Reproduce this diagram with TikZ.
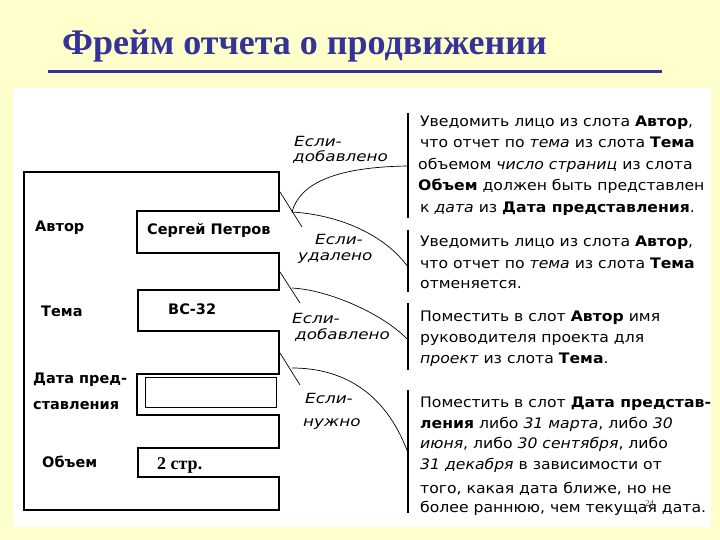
\documentclass[tikz,border=0pt]{standalone}
\usepackage{fontspec}
\setmainfont{DejaVu Sans}
\newfontfamily\titlefont{Liberation Serif}
\newfontfamily\condfont[FakeStretch=1.2]{DejaVu Sans}
\newfontfamily\bodyfont[FakeStretch=1.08]{DejaVu Sans}
\definecolor{bgyellow}{RGB}{255,255,204}
\definecolor{titleblue}{RGB}{51,51,153}
\newcommand\B[1]{\textbf{#1}}
\newcommand\I[1]{\textit{#1}}
\tikzset{
  txt/.style={anchor=base west, inner sep=0pt, font=\bodyfont\fontsize{14.5}{17}\selectfont},
  slotlab/.style={anchor=base west, inner sep=0pt, font=\bfseries\fontsize{14.5}{17}\selectfont},
  cond/.style={anchor=base west, inner sep=0pt, font=\condfont\itshape\fontsize{14}{17}\selectfont},
  frameline/.style={line width=2pt, line join=miter},
  bar/.style={line width=1.2pt},
  link/.style={line width=0.7pt}
}
\begin{document}
\begin{tikzpicture}[x=1pt,y=-1pt]
\useasboundingbox (0,0) rectangle (720,540);
\fill[bgyellow] (0,0) rectangle (720,540);
\fill[white] (13,88) rectangle (711,527);
% title
\node[anchor=base west, inner sep=0pt, text=titleblue,
      font=\titlefont\bfseries\fontsize{36}{40}\selectfont] (title) at (62,55) {Фрейм отчета о продвижении};
\coordinate (ulA) at (48,71.5);
\coordinate (ulB) at (662,71.5);
\draw[titleblue, line width=2.5pt] (ulA) -- (ulB);
% frame
\draw[frameline] (24,172) -- (279,172) -- (279,211) -- (137,211) -- (137,253) -- (279,253)
  -- (279,290) -- (138,290) -- (138,331) -- (279,331) -- (279,374) -- (137,374)
  -- (137,415) -- (279,415) -- (279,448) -- (138,448) -- (138,477) -- (279,477)
  -- (279,510) -- (24,510) -- cycle;
\draw[line width=1pt] (145,377) rectangle (276,407);
% slot labels
\node[slotlab] (sAutor) at (35,232) {Автор};
\node[slotlab] (vAutor) at (147,235) {Сергей Петров};
\node[slotlab] (sTema) at (41,316) {Тема};
\node[slotlab] (vTema) at (168,314) {ВС-32};
\node[slotlab] (sDate1) at (33,383) {Дата пред-};
\node[slotlab] (sDate2) at (33,409) {ставления};
\node[slotlab] (sVol) at (42,467) {Объем};
\node[anchor=base west, inner sep=0pt, font=\titlefont\bfseries\fontsize{18}{20}\selectfont] (vVol) at (157,469) {2 стр.};
% condition labels
\node[cond] (c1a) at (294,147) {Если-};
\node[cond] (c1b) at (293,162) {добавлено};
\node[cond] (c2a) at (315,244) {Если-};
\node[cond] (c2b) at (298,260) {удалено};
\node[cond] (c3a) at (292,323) {Если-};
\node[cond] (c3b) at (295,339) {добавлено};
\node[cond] (c4a) at (305,403) {Если-};
\node[cond] (c4b) at (303,426) {нужно};
% procedure bars
\coordinate (b1t) at (408,113); \coordinate (b1b) at (408,218);
\coordinate (b2t) at (408,230); \coordinate (b2b) at (408,292);
\coordinate (b3t) at (408,303); \coordinate (b3b) at (408,370);
\coordinate (b4t) at (408,390); \coordinate (b4b) at (408,513);
\draw[bar] (b1t) -- (b1b);
\draw[bar] (b2t) -- (b2b);
\draw[bar] (b3t) -- (b3b);
\draw[bar] (b4t) -- (b4b);
% connectors
\coordinate (d1s) at (280,192); \coordinate (d1e) at (302,227); \coordinate (p1) at (292,212);
\coordinate (d2s) at (280,272); \coordinate (d2e) at (300,303); \coordinate (p2) at (292,288);
\coordinate (d3s) at (280,353); \coordinate (d3e) at (300,385); \coordinate (p3) at (292,368);
\coordinate (e1) at (408,166); \coordinate (e2) at (408,267);
\coordinate (e3) at (408,340); \coordinate (e4) at (408,453);
\draw[link] (d1s) -- (d1e);
\draw[link] (d2s) -- (d2e);
\draw[link] (d3s) -- (d3e);
\draw[link] (p1) .. controls (299,186) and (330,167) .. (e1);
\draw[link] (p1) .. controls (340,215) and (385,235) .. (e2);
\draw[link] (p2) .. controls (330,290) and (385,315) .. (e3);
\draw[link] (p3) .. controls (340,368) and (385,390) .. (e4);
% block 1
\node[txt] (t11) at (420,127) {Уведомить лицо из слота \B{Автор},};
\node[txt] (t12) at (420,148) {что отчет по \I{тема} из слота \B{Тема}};
\node[txt] (t13) at (418,170) {объемом \I{число страниц} из слота};
\node[txt] (t14) at (418,191) {\B{Объем} должен быть представлен};
\node[txt] (t15) at (420,212) {к \I{дата} из \B{Дата представления}.};
% block 2
\node[txt] (t21) at (420,247) {Уведомить лицо из слота \B{Автор},};
\node[txt] (t22) at (420,268) {что отчет по \I{тема} из слота \B{Тема}};
\node[txt] (t23) at (420,288) {отменяется.};
% block 3
\node[txt] (t31) at (420,321) {Поместить в слот \B{Автор} имя};
\node[txt] (t32) at (420,342) {руководителя проекта для};
\node[txt] (t33) at (420,363) {\I{проект} из слота \B{Тема}.};
% block 4
\node[txt] (t41) at (420,407) {Поместить в слот \B{Дата представ-}};
\node[txt] (t42) at (420,428) {\B{ления} либо \I{31 марта}, либо \I{30}};
\node[txt] (t43) at (420,448) {\I{июня}, либо \I{30 сентября}, либо};
\node[txt] (t44) at (420,469) {\I{31 декабря} в зависимости от};
\node[txt] (t45) at (420,493) {того, какая дата ближе, но не};
\node[txt] (t46) at (420,512) {более раннюю, чем текущая дата.};
% page number
\node[anchor=base west, inner sep=0pt, text=black!75, font=\titlefont\fontsize{9}{10}\selectfont] (pnum) at (645,506) {24};
\end{tikzpicture}
\end{document}
